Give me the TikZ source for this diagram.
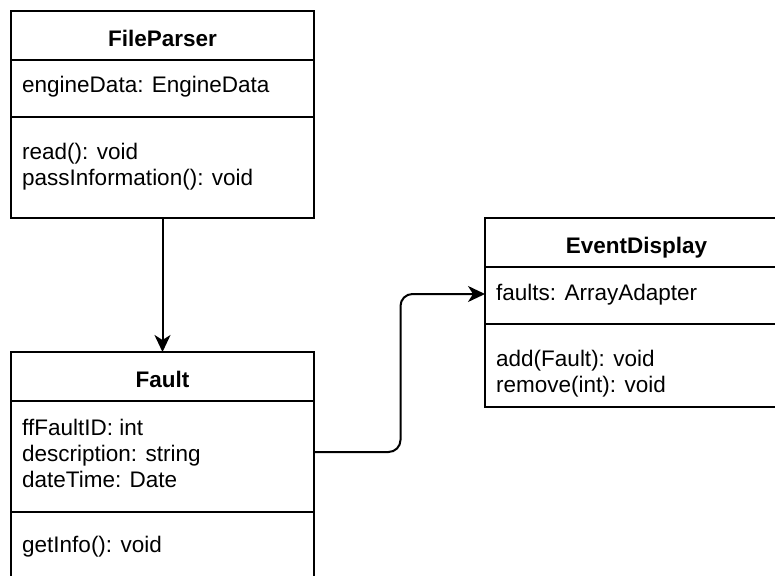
\documentclass[tikz,border=0pt]{standalone}
\usepackage{fontspec}
\setmainfont{Liberation Sans}
\usetikzlibrary{arrows.meta,calc}
\begin{document}
\begin{tikzpicture}[x=1pt,y=-1pt,
  classbox/.style={draw, line width=1.8pt, minimum width=303pt, anchor=north west,
    inner sep=0pt, outer sep=0pt},
  member/.style={anchor=base west, inner sep=0pt, font=\fontsize{22.5}{26}\selectfont},
  title/.style={anchor=base, inner sep=0pt, font=\fontsize{22.5}{26}\selectfont\bfseries},
  divider/.style={line width=1.8pt},
  conn/.style={draw, line width=2pt, -{Stealth[length=17pt,width=16pt,inset=5pt]}}]
\clip (0,0) rectangle (775,575);
\fill[white] (0,0) rectangle (775,575);

% FileParser class
\node[classbox, minimum height=207pt] (fp) at (11,11) {};
\draw[divider] (11,60) -- (314,60);
\draw[divider] (11,117) -- (314,117);
\node[title] (fpname) at (162.5,47) {FileParser};
\node[member] (fpa1) at (22,93) {engineData: EngineData};
\node[member] (fpm1) at (22,159) {read(): void};
\node[member] (fpm2) at (22,185) {passInformation(): void};

% Fault class
\node[classbox, minimum height=250pt] (fault) at (11,352) {};
\draw[divider] (11,401) -- (314,401);
\draw[divider] (11,512) -- (314,512);
\node[title] (faultname) at (162.5,387) {Fault};
\node[member] (fa1) at (22,435) {ffFaultID: int};
\node[member] (fa2) at (22,461) {description: string};
\node[member] (fa3) at (22,487) {dateTime: Date};
\node[member] (fm1) at (22,552) {getInfo(): void};

% EventDisplay class
\node[classbox, minimum height=189pt] (ed) at (485,218) {};
\draw[divider] (485,267) -- (788,267);
\draw[divider] (485,324) -- (788,324);
\node[title] (edname) at (636.5,253) {EventDisplay};
\node[member] (ea1) at (496,300) {faults: ArrayAdapter};
\node[member] (em1) at (496,366) {add(Fault): void};
\node[member] (em2) at (496,392) {remove(int): void};

% Associations
\path[conn] (fp.south) -- (fault.north);
\path[conn, rounded corners=12pt] (fault.north east) ++(0,100) -| (400.5,294)
  -- ($(ed.north west)+(0,76)$);
\end{tikzpicture}
\end{document}
